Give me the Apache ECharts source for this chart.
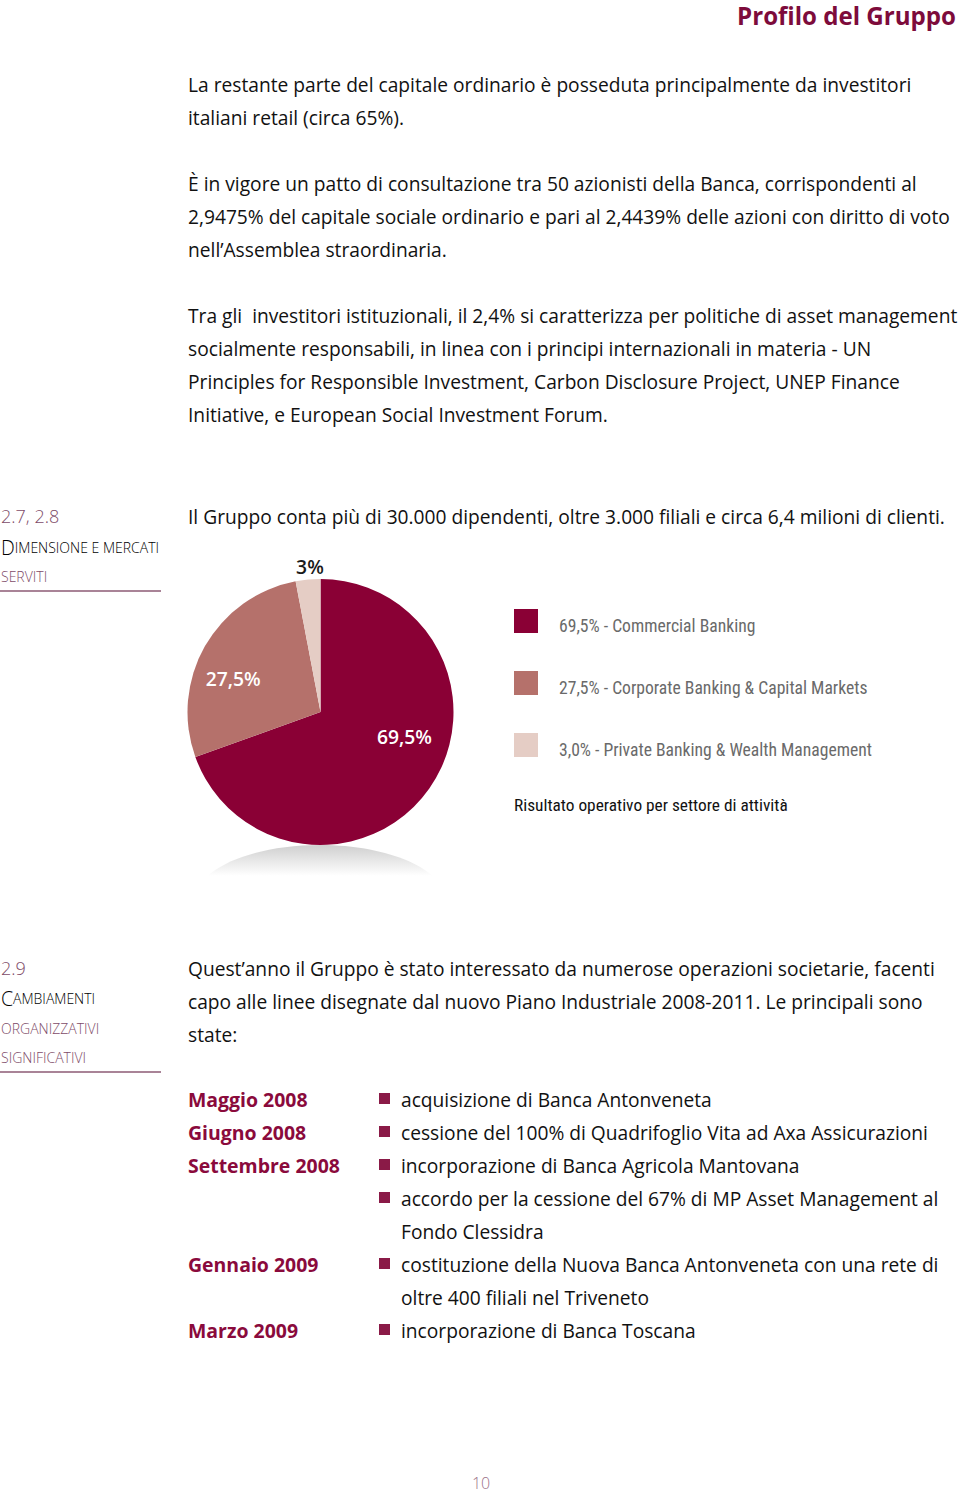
<!DOCTYPE html>
<html>
<head>
<meta charset="utf-8">
<script src="https://cdn.jsdelivr.net/npm/echarts@6/dist/echarts.min.js"></script>
<style>
html,body{margin:0;padding:0;background:#fff;}
#chart{width:960px;height:1494px;}
</style>
</head>
<body>
<div id="chart"></div>
<script>
// ---------- DATA ----------
const sectors = ['Commercial Banking', 'Corporate Banking & Capital Markets', 'Private Banking & Wealth Management'];
const shares = [69.5, 27.5, 3.0];
const chartTitle = 'Risultato operativo per settore di attività';

const headerTitle = 'Profilo del Gruppo';
const para1 = ['La restante parte del capitale ordinario è posseduta principalmente da investitori',
  'italiani retail (circa 65%).'];
const para2 = ['È in vigore un patto di consultazione tra 50 azionisti della Banca, corrispondenti al',
  '2,9475% del capitale sociale ordinario e pari al 2,4439% delle azioni con diritto di voto',
  'nell’Assemblea straordinaria.'];
const para3 = ['Tra gli  investitori istituzionali, il 2,4% si caratterizza per politiche di asset management',
  'socialmente responsabili, in linea con i principi internazionali in materia - UN',
  'Principles for Responsible Investment, Carbon Disclosure Project, UNEP Finance',
  'Initiative, e European Social Investment Forum.'];
const para4 = ['Il Gruppo conta più di 30.000 dipendenti, oltre 3.000 filiali e circa 6,4 milioni di clienti.'];
const para5 = ['Quest’anno il Gruppo è stato interessato da numerose operazioni societarie, facenti',
  'capo alle linee disegnate dal nuovo Piano Industriale 2008-2011. Le principali sono',
  'state:'];
const section1 = ['2.7, 2.8', 'Dimensione e mercati', 'serviti'];
const section2 = ['2.9', 'Cambiamenti', 'organizzativi', 'significativi'];
const listDates = ['Maggio 2008', 'Giugno 2008', 'Settembre 2008', '', '', 'Gennaio 2009', '', 'Marzo 2009'];
const listBullets = [true, true, true, true, false, true, false, true];
const listTexts = ['acquisizione di Banca Antonveneta',
  'cessione del 100% di Quadrifoglio Vita ad Axa Assicurazioni',
  'incorporazione di Banca Agricola Mantovana',
  'accordo per la cessione del 67% di MP Asset Management al',
  'Fondo Clessidra',
  'costituzione della Nuova Banca Antonveneta con una rete di',
  'oltre 400 filiali nel Triveneto',
  'incorporazione di Banca Toscana'];
const pageNumber = '10';

// ---------- STYLE / LAYOUT ----------
const BODY = '"Open Sans", "Noto Sans", sans-serif';
const COND = '"Roboto Condensed", "Liberation Sans Narrow", "DejaVu Sans Condensed", "Open Sans", sans-serif';
const colors = ['#8a0035', '#b5716b', '#e5cdc5'];
const wine = '#7d0b3b';
const mauve = '#7e4b68';

const mctx = document.createElement('canvas').getContext('2d');
function fit(text, family, weight, target) {
  mctx.font = weight + ' 100px ' + family;
  return 100 * target / mctx.measureText(text).width;
}
const bodySize = fit(para3[0], BODY, 'normal', 770);
const dateSize = fit('Settembre 2008', BODY, 'bold', 152);
const headSize = fit(headerTitle, BODY, 'bold', 219);
const legSize = fit('3,0% - ' + sectors[2], COND, 'normal', 313);
const titSize = fit(chartTitle, COND, 'normal', 274);
const pieLblSize = fit('69,5%', BODY, '600', 55);

const fmtComma = (v, fixed) => (fixed ? v.toFixed(1) : (Number.isInteger(v) ? String(v) : v.toFixed(1))).replace('.', ',');

const graphics = [];
function txt(str, x, y, opt) {
  graphics.push({type: 'text', x: x, y: y, silent: true, style: Object.assign({
    text: str, fill: '#111', fontFamily: BODY, fontSize: bodySize, fontWeight: 'normal',
    align: 'left', verticalAlign: 'middle'
  }, opt || {})});
}
function lines(arr, x, y0, step) { arr.forEach((s, i) => txt(s, x, y0 + i * step)); }

// header
txt(headerTitle, 956, 15, {align: 'right', fill: wine, fontWeight: 'bold', fontSize: headSize});
// paragraphs
lines(para1, 188, 84, 33);
lines(para2, 188, 183, 33);
lines(para3, 188, 315, 33);
lines(para4, 188, 516, 33);
lines(para5, 188, 968, 33);

// section labels (small caps: first letter large, rest small capitals)
const SC_BIG = 19.5, SC_SMALL = 14;
function smallCaps(str, x, y) {
  graphics.push({type: 'text', x: x, y: y, silent: true, style: {
    text: '{a|' + str.charAt(0).toUpperCase() + '}{b|' + str.slice(1).toUpperCase() + '}',
    verticalAlign: 'middle', align: 'left',
    rich: {a: {fontFamily: BODY, fontSize: SC_BIG, fontWeight: 300, color: mauve},
           b: {fontFamily: BODY, fontSize: SC_SMALL, fontWeight: 300, color: mauve}}
  }});
}
function capsOnly(str, x, y) {
  txt(str.toUpperCase(), x, y, {fill: mauve, fontWeight: 300, fontSize: SC_SMALL});
}
txt(section1[0], 1, 516, {fill: mauve, fontWeight: 300, fontSize: 18});
smallCaps(section1[1], 1, 547);
capsOnly(section1[2], 1, 576);
graphics.push({type: 'line', silent: true, shape: {x1: 0, y1: 591, x2: 161, y2: 591}, style: {stroke: '#8c5a74', lineWidth: 1.5}});

txt(section2[0], 1, 968, {fill: mauve, fontWeight: 300, fontSize: 18});
smallCaps(section2[1], 1, 998);
capsOnly(section2[2], 1, 1028);
capsOnly(section2[3], 1, 1057);
graphics.push({type: 'line', silent: true, shape: {x1: 0, y1: 1072, x2: 161, y2: 1072}, style: {stroke: '#8c5a74', lineWidth: 1.5}});

// list
listTexts.forEach((t, i) => {
  const y = 1099 + i * 33;
  if (listDates[i]) txt(listDates[i], 188, y, {fill: '#8a0a3c', fontWeight: 'bold', fontSize: dateSize});
  if (listBullets[i]) graphics.push({type: 'rect', silent: true, shape: {x: 379, y: y - 6, width: 11, height: 11}, style: {fill: '#8a1a47'}});
  txt(t, 401, y);
});

// page number
txt(pageNumber, 481, 1483, {align: 'center', fill: '#9a6f86', fontWeight: 300, fontSize: 16});

// chart title
txt(chartTitle, 514, 805, {fill: '#111', fontFamily: COND, fontSize: titSize});

// pie shadow
graphics.push({type: 'ellipse', silent: true, z: -1, shape: {cx: 320, cy: 900, rx: 125, ry: 55},
  style: {fill: {type: 'linear', x: 0, y: 0, x2: 0, y2: 1, colorStops: [
    {offset: 0, color: '#cfcfcf'}, {offset: 0.28, color: '#ffffff'}, {offset: 1, color: '#ffffff'}]}}});

const labelShift = [[27, -15], [-27, 1], [-4, -76]];
const labelColors = ['#ffffff', '#ffffff', '#1a1a1a'];

const chart = echarts.init(document.getElementById('chart'), null, {renderer: 'svg'});
chart.setOption({
  animation: false,
  backgroundColor: '#ffffff',
  legend: {
    orient: 'vertical', left: 514, top: 609, padding: 0, itemWidth: 24, itemHeight: 24, itemGap: 36.5,
    icon: 'rect', selectedMode: false,
    data: sectors,
    formatter: name => '{t|' + fmtComma(shares[sectors.indexOf(name)], true) + '% - ' + name + '}',
    textStyle: {padding: [0, 0, 0, 16],
      rich: {t: {fontFamily: COND, fontSize: legSize, color: '#6a6a6a', padding: [9, 0, 0, 0]}}}
  },
  graphic: {elements: graphics},
  series: [{
    type: 'pie', center: [320.5, 712], radius: 133, startAngle: 90, clockwise: true,
    silent: true, z: 2,
    itemStyle: {borderWidth: 0},
    label: {show: true, position: 'inside', fontFamily: BODY, fontWeight: 600, fontSize: pieLblSize,
      formatter: p => fmtComma(p.value, false) + '%'},
    labelLine: {show: false},
    labelLayout: p => ({dx: labelShift[p.dataIndex][0], dy: labelShift[p.dataIndex][1]}),
    data: sectors.map((s, i) => ({name: s, value: shares[i], itemStyle: {color: colors[i]},
      label: {color: labelColors[i]}}))
  }]
});
</script>
</body>
</html>
